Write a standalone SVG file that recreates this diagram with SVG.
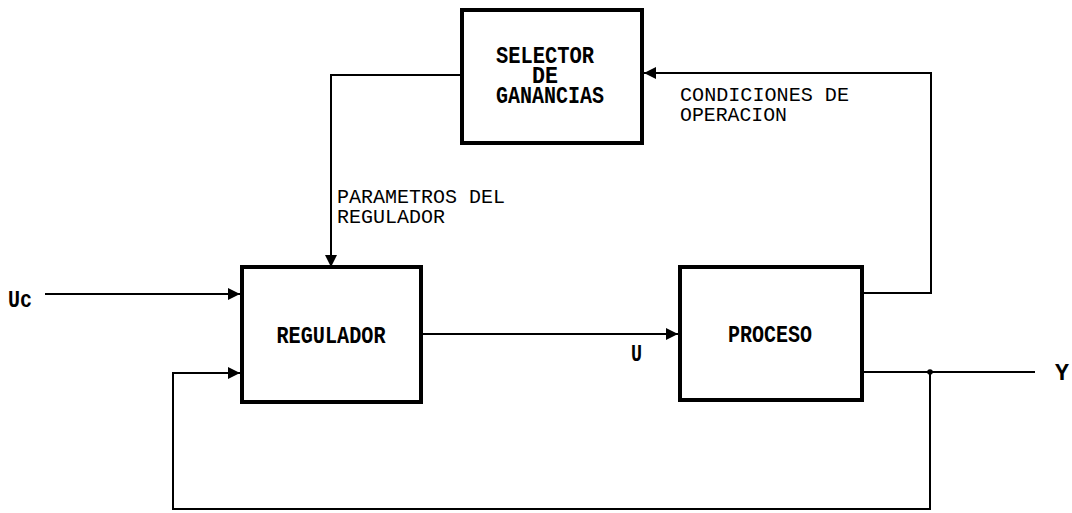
<svg xmlns="http://www.w3.org/2000/svg" width="1072" height="513" viewBox="0 0 1072 513">
<defs>
<marker id="ah" markerUnits="userSpaceOnUse" markerWidth="13" markerHeight="13" refX="12" refY="6.5" orient="auto">
<path d="M0,0.5 L12,6.5 L0,12.5 Z" fill="#000"/>
</marker>
<style>
.box{fill:#fff;stroke:#000;stroke-width:4}
.ln{fill:none;stroke:#000;stroke-width:2}
.bt{font-family:"Liberation Mono","DejaVu Sans Mono",monospace;font-weight:bold;font-size:23px;fill:#000}
.lt{font-family:"Liberation Mono","DejaVu Sans Mono",monospace;font-size:21px;fill:#000}
</style>
</defs>
<rect width="1072" height="513" fill="#fff"/>
<g id="connectors">
<path class="ln" d="M462,75 H331 V267" marker-end="url(#ah)"/>
<path class="ln" d="M45,294 H240" marker-end="url(#ah)"/>
<path class="ln" d="M421,334 H678" marker-end="url(#ah)"/>
<path class="ln" d="M862,293 H931 V73 H644" marker-end="url(#ah)"/>
<path class="ln" d="M862,372 H1035"/>
<path class="ln" d="M930,372 V509 H173 V373 H240" marker-end="url(#ah)"/>
<circle cx="930" cy="372" r="2.8" fill="#000"/>
</g>
<g id="selector">
<rect class="box" x="462" y="10" width="180" height="133"/>
<text class="bt" x="545" y="63" text-anchor="middle" textLength="98" lengthAdjust="spacingAndGlyphs">SELECTOR</text>
<text class="bt" x="545" y="83" text-anchor="middle" textLength="26" lengthAdjust="spacingAndGlyphs">DE</text>
<text class="bt" x="550" y="103" text-anchor="middle" textLength="108" lengthAdjust="spacingAndGlyphs">GANANCIAS</text>
</g>
<g id="regulador">
<rect class="box" x="242" y="267" width="179" height="135"/>
<text class="bt" x="331" y="343" text-anchor="middle" textLength="109" lengthAdjust="spacingAndGlyphs">REGULADOR</text>
</g>
<g id="proceso">
<rect class="box" x="680" y="267" width="182" height="133"/>
<text class="bt" x="770" y="342" text-anchor="middle" textLength="84" lengthAdjust="spacingAndGlyphs">PROCESO</text>
</g>
<g id="labels">
<text class="bt" x="8" y="307" textLength="24" lengthAdjust="spacingAndGlyphs">Uc</text>
<text class="bt" x="631" y="361" textLength="11" lengthAdjust="spacingAndGlyphs">U</text>
<text class="bt" x="1055" y="380" textLength="14" lengthAdjust="spacingAndGlyphs">Y</text>
<text class="lt" x="337" y="203" textLength="168" lengthAdjust="spacingAndGlyphs">PARAMETROS DEL</text>
<text class="lt" x="337" y="223" textLength="108" lengthAdjust="spacingAndGlyphs">REGULADOR</text>
<text class="lt" x="680" y="101" textLength="169" lengthAdjust="spacingAndGlyphs">CONDICIONES DE</text>
<text class="lt" x="680" y="121" textLength="107" lengthAdjust="spacingAndGlyphs">OPERACION</text>
</g>
</svg>
